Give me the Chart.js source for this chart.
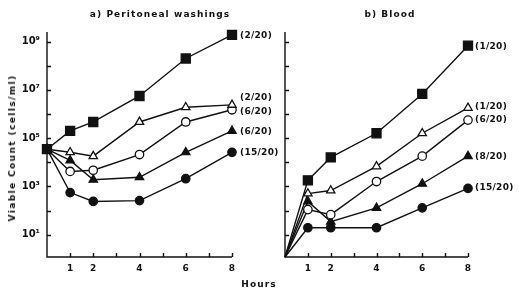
<!DOCTYPE html>
<html><head><meta charset="utf-8">
<script src="https://cdn.jsdelivr.net/npm/chart.js@4"></script>
<style>
body{margin:0;background:#fff;width:519px;height:291px;overflow:hidden;position:relative;font-family:"DejaVu Sans",sans-serif;}
canvas{position:absolute;left:0;top:0;}
.t{position:absolute;font-size:9px;font-weight:bold;letter-spacing:1.1px;color:#111;white-space:nowrap;transform:translate(-50%,-50%);}
</style></head><body>
<canvas id="c1" width="519" height="291"></canvas>
<canvas id="c2" width="519" height="291"></canvas>
<div class="t" style="left:160px;top:14px">a) Peritoneal washings</div>
<div class="t" style="left:390px;top:14px">b) Blood</div>
<div class="t" style="left:12px;top:148px;transform:translate(-50%,-50%) rotate(-90deg);letter-spacing:1.4px">Viable Count (cells/ml)</div>
<div class="t" style="left:259px;top:284px">Hours</div>
<script>
const hours = [0, 1, 2, 4, 6, 8];
const xTickLabels = {1:'1', 2:'2', 4:'4', 6:'6', 8:'8'};
const yTickLabels = {1:'10¹', 3:'10³', 5:'10⁵', 7:'10⁷', 9:'10⁹'};

// a) Peritoneal washings (cells/ml)
const periFilledSquare = [3.5e4, 2.0e5, 4.7e5, 5.6e6, 2.0e8, 1.9e9];
const periOpenTriangle = [3.5e4, 2.6e4, 1.8e4, 4.7e5, 1.9e6, 2.4e6];
const periOpenCircle   = [3.5e4, 4.2e3, 4.7e3, 2.1e4, 4.7e5, 1.5e6];
const periFilledTri    = [3.5e4, 1.2e4, 1.9e3, 2.4e3, 2.6e4, 2.0e5];
const periFilledCircle = [3.5e4, 5.6e2, 2.4e2, 2.6e2, 2.1e3, 2.6e4];
const periLabels = ['(2/20)', '(2/20)', '(6/20)', '(6/20)', '(15/20)'];

// b) Blood (cells/ml)
const bloodFilledSquare = [1.2, 1.8e3, 1.6e4, 1.6e5, 6.8e6, 6.8e8];
const bloodOpenTriangle = [1.2, 5.1e2, 6.8e2, 6.8e3, 1.6e5, 1.8e6];
const bloodOpenCircle   = [1.2, 1.1e2, 68, 1.6e3, 1.8e4, 5.6e5];
const bloodFilledTri    = [1.2, 2.4e2, 35, 1.3e2, 1.3e3, 1.8e4];
const bloodFilledCircle = [1.2, 19.5, 19.5, 19.5, 1.3e2, 8.3e2];
const bloodLabels = ['(1/20)', '(1/20)', '(6/20)', '(8/20)', '(15/20)'];

const INK = '#111';
const styles = [
  {pointStyle:'rect', r:6.4, fill:INK},
  {pointStyle:'triangle', r:4.8, fill:'#fff'},
  {pointStyle:'circle', r:4.2, fill:'#fff'},
  {pointStyle:'triangle', r:4.8, fill:INK},
  {pointStyle:'circle', r:4.2, fill:INK}
];

function makeDatasets(series, hideFirst) {
  return series.map((vals, i) => ({
    data: vals.map((v, k) => ({x: hours[k], y: v})),
    borderColor: INK, borderWidth: 1.4,
    pointStyle: styles[i].pointStyle,
    pointRadius: vals.map((v, k) => (hideFirst && k === 0) ? 0 : styles[i].r),
    pointBackgroundColor: styles[i].fill,
    pointBorderColor: INK, pointBorderWidth: 1.3,
    fill: false, tension: 0, clip: false
  }));
}

function endLabels(labels, dx, dys) {
  return {
    id: 'endLabels',
    afterDatasetsDraw(chart) {
      const ctx = chart.ctx;
      ctx.save();
      ctx.font = 'bold 9px "DejaVu Sans"';
      ctx.letterSpacing = '0.3px';
      ctx.fillStyle = INK;
      ctx.textBaseline = 'middle';
      ctx.textAlign = 'left';
      chart.data.datasets.forEach((d, i) => {
        const meta = chart.getDatasetMeta(i);
        const p = meta.data[meta.data.length - 1];
        ctx.fillText(labels[i], p.x + dx, p.y + dys[i]);
      });
      ctx.restore();
    }
  };
}

const inwardTicks = {
  id: 'inwardTicks',
  afterDraw(chart) {
    const ctx = chart.ctx, a = chart.chartArea;
    const xs = chart.scales.x, ys = chart.scales.y;
    ctx.save();
    ctx.strokeStyle = INK; ctx.lineWidth = 1.4;
    ctx.beginPath();
    ctx.moveTo(a.left, a.top); ctx.lineTo(a.left, a.bottom); ctx.lineTo(a.right, a.bottom);
    for (let e = 1; e <= 9; e++) {
      const y = Math.round(ys.getPixelForValue(Math.pow(10, e))) + 0.5;
      ctx.moveTo(a.left, y); ctx.lineTo(a.left + 4, y);
    }
    for (let h = 1; h <= 8; h++) {
      const x = Math.round(xs.getPixelForValue(h)) + 0.5;
      ctx.moveTo(x, a.bottom); ctx.lineTo(x, a.bottom - 4);
    }
    ctx.stroke();
    ctx.restore();
  }
};

function makeChart(id, series, labels, opts) {
  return new Chart(document.getElementById(id), {
    type: 'line',
    data: {datasets: makeDatasets(series, opts.hideFirst)},
    options: {
      responsive: false, animation: false, events: [],
      layout: {padding: {left: 0, right: opts.padRight, top: 32, bottom: 0}},
      plugins: {legend: {display: false}, tooltip: {enabled: false}, title: {display: false}},
      scales: {
        x: {
          type: 'linear', min: 0, max: 8,
          grid: {display: false, drawTicks: false},
          border: {display: false},
          afterBuildTicks: s => { s.ticks = [1,2,3,4,5,6,7,8].map(v => ({value: v})); },
          afterFit: s => { s.height = 34; },
          ticks: {autoSkip: false, maxRotation: 0, padding: 6, color: INK,
                  font: {family: 'DejaVu Sans', size: 9, weight: 'bold'},
                  callback: v => xTickLabels[v] || ''}
        },
        y: {
          type: 'logarithmic', min: 1.2, max: 2.5e9,
          grid: {display: false, drawTicks: false},
          border: {display: false},
          afterBuildTicks: s => { s.ticks = [1,2,3,4,5,6,7,8,9].map(e => ({value: Math.pow(10, e)})); },
          afterFit: s => { s.width = opts.yWidth; },
          ticks: {autoSkip: false, padding: 7, color: INK, display: opts.showY,
                  font: {family: 'DejaVu Sans', size: 10, weight: 'bold'},
                  callback: v => yTickLabels[Math.round(Math.log10(v))] || ''}
        }
      }
    },
    plugins: [inwardTicks, endLabels(labels, opts.dx, opts.dys)]
  });
}

makeChart('c1',
  [periFilledSquare, periOpenTriangle, periOpenCircle, periFilledTri, periFilledCircle],
  periLabels,
  {padRight: 287, yWidth: 47, showY: true, hideFirst: false, dx: 8, dys: [1, -7, 2, 1, 0]});

makeChart('c2',
  [bloodFilledSquare, bloodOpenTriangle, bloodOpenCircle, bloodFilledTri, bloodFilledCircle],
  bloodLabels,
  {padRight: 51, yWidth: 285, showY: false, hideFirst: true, dx: 7, dys: [1, -1, 0, 0, -1]});
</script>
</body></html>
